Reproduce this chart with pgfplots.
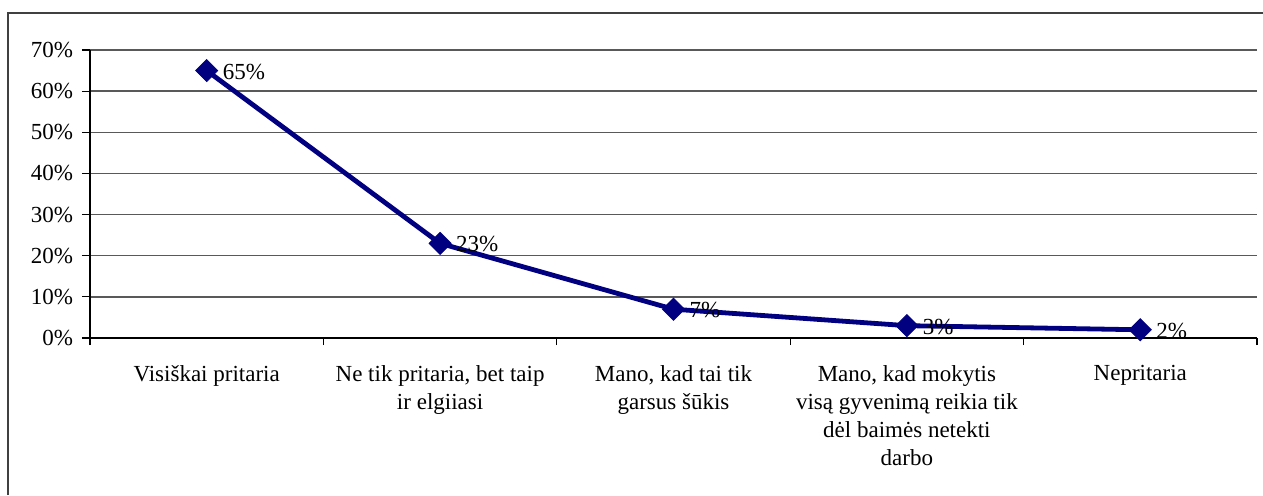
\documentclass[border=0pt]{standalone}
\usepackage{pgfplots}
\pgfplotsset{compat=1.18}
\usepackage{fontspec}
\setmainfont{Liberation Serif}
\definecolor{navyline}{RGB}{0,0,128}
\begin{document}
\begin{tikzpicture}[x=0.5pt,y=0.5pt]
% 1 px of the reference = 0.5pt
\useasboundingbox (0,0) rectangle (1263,495);
\draw[line width=1.2pt, black!75] (8,0) -- (8,482) -- (1263,482);
\begin{axis}[
    at={(45pt,78.5pt)}, anchor=south west,
    scale only axis,
    width=583.5pt, height=144pt,
    xmin=-0.5, xmax=4.5,
    ymin=0, ymax=70,
    axis x line*=bottom,
    axis y line*=left,
    axis line style={black, line width=0.6pt, -},
    tick align=outside,
    xtick={0,1,2,3,4},
    major x tick style={draw=none},
    minor xtick={-0.5,0.5,1.5,2.5,3.5,4.5},
    minor tick length=3.5pt,
    minor x tick style={black, line width=0.6pt},
    xticklabels={
      Visiškai pritaria,
      {Ne tik pritaria, bet taip\\ir elgiiasi},
      {Mano, kad tai tik\\garsus šūkis},
      {Mano, kad mokytis\\visą gyvenimą reikia tik\\dėl baimės netekti\\darbo},
      Nepritaria},
    xticklabel style={align=center, font=\fontsize{11.5}{14}\selectfont, anchor=north, yshift=-6pt},
    ytick={0,10,...,70},
    major tick length=4pt,
    major y tick style={black, line width=0.6pt},
    yticklabel={\pgfmathprintnumber{\tick}\%},
    yticklabel style={font=\fontsize{11.5}{12}\selectfont, xshift=-1pt},
    /pgf/number format/assume math mode=true,
    ymajorgrids,
    grid style={black!65, line width=0.7pt},
    clip=false,
    nodes near coords={\pgfmathprintnumber{\pgfplotspointmeta}\%},
    nodes near coords style={anchor=west, xshift=4.5pt, yshift=-0.5pt, font=\fontsize{11.5}{12}\selectfont, text=black},
  ]
\addplot[navyline, line width=2.4pt, mark=square*, mark size=3.9pt,
  mark options={rotate=45, fill=navyline, draw=navyline, line width=0.4pt}]
  coordinates {(0,65) (1,23) (2,7) (3,3) (4,2)};
\end{axis}
\end{tikzpicture}
\end{document}
